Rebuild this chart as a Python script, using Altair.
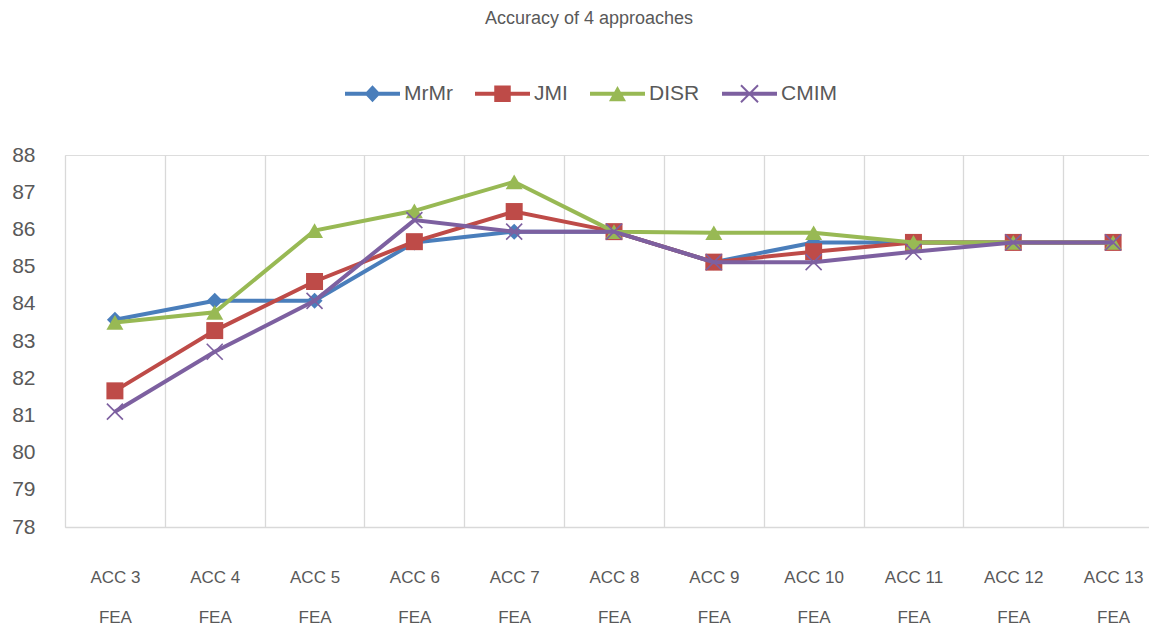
import altair as alt
import pandas as pd

categories = ["ACC 3 FEA", "ACC 4 FEA", "ACC 5 FEA", "ACC 6 FEA", "ACC 7 FEA", "ACC 8 FEA",
              "ACC 9 FEA", "ACC 10 FEA", "ACC 11 FEA", "ACC 12 FEA", "ACC 13 FEA"]
series_names = ["MrMr", "JMI", "DISR", "CMIM"]
mrmr = [83.57, 84.08, 84.08, 85.65, 85.94, 85.94, 85.12, 85.65, 85.65, 85.65, 85.65]
jmi = [81.66, 83.28, 84.60, 85.67, 86.48, 85.94, 85.12, 85.40, 85.65, 85.65, 85.65]
disr = [83.50, 83.77, 85.97, 86.50, 87.28, 85.94, 85.91, 85.91, 85.65, 85.65, 85.65]
cmim = [81.10, 82.71, 84.08, 86.25, 85.94, 85.94, 85.12, 85.12, 85.40, 85.65, 85.65]
colors = ["#4A7EBB", "#BE4B48", "#98B954", "#7D60A0"]
y_ticks = [78, 79, 80, 81, 82, 83, 84, 85, 86, 87, 88]

rows = []
for name, vals in zip(series_names, [mrmr, jmi, disr, cmim]):
    for c, v in zip(categories, vals):
        rows.append({"cat": c, "series": name, "value": v})
df = pd.DataFrame(rows)

GRAY = "#595959"
FONT = "Liberation Sans"
W = 1098
H = 372

x_enc = alt.X(
    "cat:N", sort=categories, title=None,
    scale=alt.Scale(paddingInner=0, paddingOuter=0),
    axis=alt.Axis(
        tickBand="extent", grid=True, gridColor="#D9D9D9", gridWidth=1.3,
        ticks=False, domainColor="#D9D9D9", domainWidth=1.3, labelAngle=0,
        labelFontSize=17, labelColor=GRAY, labelFont=FONT,
        labelExpr="datum.label ? [replace(datum.label, ' FEA', ''), 'FEA'] : ''",
        labelLineHeight=40, labelPadding=42, labelBaseline="top", labelAlign="center",
    ),
)
y_scale = alt.Scale(domain=[78, 88], nice=False, zero=False)
y_enc = alt.Y(
    "value:Q", scale=y_scale, title=None,
    axis=alt.Axis(values=y_ticks, grid=False, domain=False, ticks=False,
                  labelFontSize=21, labelColor=GRAY, labelFont=FONT, labelPadding=30),
)

base = alt.Chart(df)

# legend-only layer (points clipped out of view)
line_p = "M-1,-0.075H1V0.075H-1Z"
legend_shapes = [
    line_p + "M0,-0.31L0.29,0L0,0.31L-0.29,0Z",
    line_p + "M-0.3,-0.3H0.3V0.3H-0.3Z",
    line_p + "M0,-0.28L0.31,0.27L-0.31,0.27Z",
    line_p + "M-0.285,-0.335L0.335,0.285L0.285,0.335L-0.335,-0.285Z"
    + "M-0.335,0.285L0.285,-0.335L0.335,-0.285L-0.285,0.335Z",
]
legend = alt.Legend(
    title=None, orient="none", legendX=280, legendY=-89, direction="horizontal",
    symbolSize=3025, symbolStrokeWidth=0, labelFontSize=21, labelColor=GRAY,
    labelFont=FONT, labelOffset=4, columnPadding=22, padding=0,
)
legend_layer = base.transform_calculate(value="70").mark_point(
    filled=True, clip=True, opacity=1
).encode(
    x=x_enc, y=y_enc,
    color=alt.Color("series:N", scale=alt.Scale(domain=series_names, range=colors), legend=legend),
    shape=alt.Shape("series:N", scale=alt.Scale(domain=series_names, range=legend_shapes), legend=legend),
)

marker_shapes = ["diamond", "square", "triangle-up", "M-1,-1L1,1M-1,1L1,-1"]
marker_sizes = [256, 289, 289, 256]
layers = [legend_layer]
for i, name in enumerate(series_names):
    sub = base.transform_filter(alt.datum.series == name)
    layers.append(
        sub.mark_line(strokeWidth=4, color=colors[i]).encode(x=x_enc, y=y_enc)
    )
    if i < 3:
        pts = sub.mark_point(filled=True, opacity=1, color=colors[i], strokeWidth=0,
                             shape=marker_shapes[i], size=marker_sizes[i])
    else:
        pts = sub.mark_point(filled=False, opacity=1, color=colors[i], strokeWidth=1.6,
                             shape=marker_shapes[i], size=marker_sizes[i])
    layers.append(pts.encode(x=x_enc, y=y_enc))

chart = alt.layer(*layers).properties(
    width=W, height=H,
    autosize=alt.AutoSizeParams(type="none"),
    padding={"left": 57, "top": 147, "right": -14, "bottom": 98},
    title=alt.TitleParams(
        "Accuracy of 4 approaches", fontSize=18, font=FONT, color=GRAY,
        fontWeight="normal", anchor="middle", frame="group", offset=38, dx=-25,
    ),
).configure_view(stroke=None).configure(background="white")

chart.save("out.html", embed_options={"renderer": "svg", "actions": False})
